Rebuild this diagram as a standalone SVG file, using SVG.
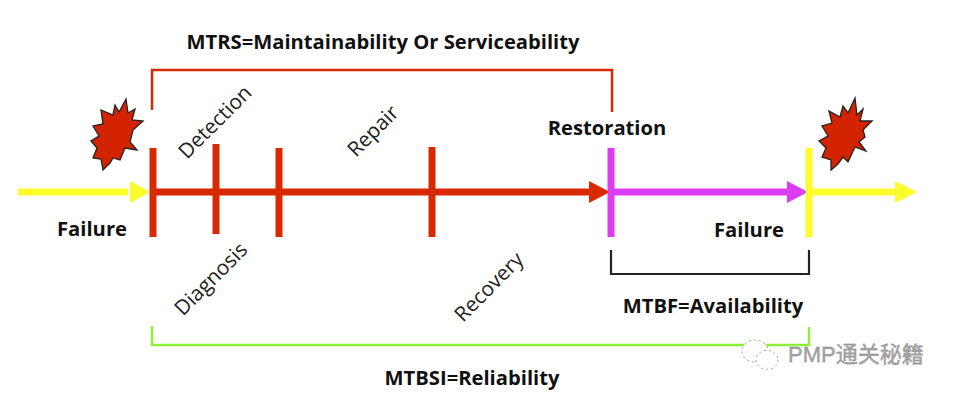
<svg xmlns="http://www.w3.org/2000/svg" width="966" height="413" viewBox="0 0 966 413">
<style>
text{font-family:"Open Sans","Noto Sans",sans-serif;fill:#111;font-size:20.7px}
.b{font-weight:700;font-size:20.2px;text-anchor:middle}
.n{font-weight:400;text-anchor:middle;fill:#222}
.burst{fill:#d42300;stroke:#222;stroke-width:1.3;stroke-linejoin:miter}
.bar{stroke-width:7;fill:none}
.wm{font-family:"Liberation Sans","Noto Sans CJK SC",sans-serif;font-size:22px;fill:#a8a8a8;stroke:#777;stroke-width:.3}
</style>
<rect width="966" height="413" fill="#fff"/>
<g id="connectors">
<path d="M18 192H128" stroke="#fdfb29" stroke-width="7" fill="none"/>
<polygon points="130,181 150,192 130,203" fill="#fdfb29"/>
<path d="M154 192H590" stroke="#d92900" stroke-width="7" fill="none"/>
<polygon points="589,181 610,192 589,203" fill="#d92900"/>
<path d="M612 192H788" stroke="#dd3cf5" stroke-width="7" fill="none"/>
<polygon points="787,181 808,192 787,203" fill="#dd3cf5"/>
<path d="M810 192H897" stroke="#fdfb29" stroke-width="7" fill="none"/>
<polygon points="895,181 917,192 895,203" fill="#fdfb29"/>
</g>
<g id="ticks">
<path class="bar" d="M153 148V237" stroke="#d92900"/>
<path class="bar" d="M216 144V234" stroke="#d92900"/>
<path class="bar" d="M279 148V237" stroke="#d92900"/>
<path class="bar" d="M432 147V237" stroke="#d92900"/>
<path class="bar" d="M611 148V237" stroke="#dd3cf5"/>
<path class="bar" d="M809 148V237" stroke="#fdfb29"/>
</g>
<g id="brackets">
<path d="M152 110V70H612V112" stroke="#d92900" stroke-width="2.5" fill="none"/>
<path d="M611 250V274H809V250" stroke="#222" stroke-width="2.2" fill="none"/>
<path d="M152 326V345H809V327" stroke="#8ef03a" stroke-width="2.5" fill="none"/>
</g>
<g id="burst-left"><polygon class="burst" points="126,99 128,113 135,109 132,120 143,121 133,130 130,142 137,150 125,148 120,160 113,158 110,163 103,170 101,159 93,158 97,148 91,141 99,136 93,126 103,124 101,110 113,115 115,105 119,112"/></g>
<g id="burst-right"><polygon class="burst" points="855,98 857,115 863,109 860,121 872,121 863,130 865,137 859,142 866,151 855,147 848,162 843,157 838,164 831,170 831,160 822,157 826,148 819,141 828,136 822,126 832,123 829,111 840,117 843,106 848,113"/></g>
<g id="labels">
<text class="b" x="383" y="49">MTRS=Maintainability Or Serviceability</text>
<text class="b" x="92" y="236">Failure</text>
<text class="b" x="607" y="135">Restoration</text>
<text class="b" x="749" y="237">Failure</text>
<text class="b" x="713" y="313">MTBF=Availability</text>
<text class="b" x="472" y="385">MTBSI=Reliability</text>
<text class="n" transform="translate(215 122) rotate(-45)" y="7">Detection</text>
<text class="n" transform="translate(373 131) rotate(-45)" y="7">Repair</text>
<text class="n" transform="translate(211 279) rotate(-45)" y="7">Diagnosis</text>
<text class="n" transform="translate(489 287) rotate(-45)" y="7">Recovery</text>
</g>
<g id="watermark">
<g fill="#fff" stroke="#999" stroke-width="1" stroke-dasharray="2 3">
<ellipse cx="755" cy="351" rx="13" ry="11"/>
<ellipse cx="767" cy="360" rx="11" ry="9.5"/>
</g>
<text class="wm" x="788" y="362">PMP通关秘籍</text>
</g>
</svg>
